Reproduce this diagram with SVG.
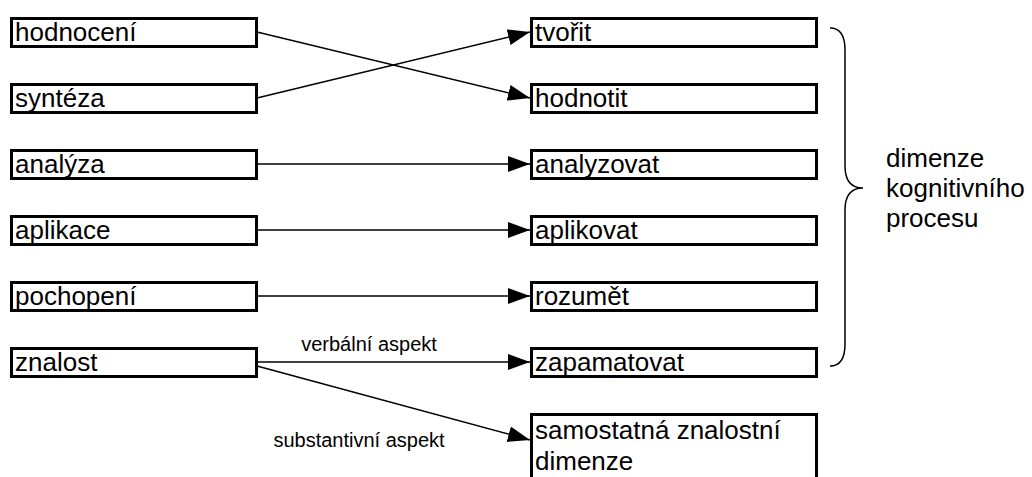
<svg xmlns="http://www.w3.org/2000/svg" width="1032" height="477" viewBox="0 0 1032 477">
<style>
.box{fill:#fff;stroke:#000;stroke-width:3}
.t{font-family:"Liberation Sans",Arial,sans-serif;font-size:26px;fill:#000}
.s{font-family:"Liberation Sans",Arial,sans-serif;font-size:20px;fill:#000}
.c{stroke:#000;stroke-width:1.5;fill:none}
</style>
<defs>
<marker id="ah" markerWidth="22" markerHeight="16" refX="22" refY="8" orient="auto" markerUnits="userSpaceOnUse">
<path d="M0,0 L22,8 L0,16 Z" fill="#000"/>
</marker>
</defs>
<rect width="1032" height="477" fill="#fff"/>
<g id="l1"><rect class="box" x="11.5" y="18.5" width="245" height="28"/><text class="t" x="15" y="40.5">hodnocení</text></g>
<g id="l2"><rect class="box" x="11.5" y="84.5" width="245" height="28"/><text class="t" x="15" y="106.5">syntéza</text></g>
<g id="l3"><rect class="box" x="11.5" y="150.5" width="245" height="28"/><text class="t" x="15" y="172.5">analýza</text></g>
<g id="l4"><rect class="box" x="11.5" y="216.5" width="245" height="28"/><text class="t" x="15" y="238.5">aplikace</text></g>
<g id="l5"><rect class="box" x="11.5" y="282.5" width="245" height="28"/><text class="t" x="15" y="304.5">pochopení</text></g>
<g id="l6"><rect class="box" x="11.5" y="348.5" width="245" height="28"/><text class="t" x="15" y="370.5">znalost</text></g>
<g id="r1"><rect class="box" x="531.5" y="18.5" width="285" height="28"/><text class="t" x="535" y="40.5">tvořit</text></g>
<g id="r2"><rect class="box" x="531.5" y="84.5" width="285" height="28"/><text class="t" x="535" y="106.5">hodnotit</text></g>
<g id="r3"><rect class="box" x="531.5" y="150.5" width="285" height="28"/><text class="t" x="535" y="172.5">analyzovat</text></g>
<g id="r4"><rect class="box" x="531.5" y="216.5" width="285" height="28"/><text class="t" x="535" y="238.5">aplikovat</text></g>
<g id="r5"><rect class="box" x="531.5" y="282.5" width="285" height="28"/><text class="t" x="535" y="304.5">rozumět</text></g>
<g id="r6"><rect class="box" x="531.5" y="348.5" width="285" height="28"/><text class="t" x="535" y="370.5">zapamatovat</text></g>
<g id="r7"><path class="box" d="M531.5,480 L531.5,414.5 L816.5,414.5 L816.5,480"/><text class="t" x="535" y="439">samostatná znalostní</text><text class="t" x="535" y="470">dimenze</text></g>
<g id="connectors">
<line class="c" x1="257" y1="32" x2="530" y2="98" marker-end="url(#ah)"/>
<line class="c" x1="257" y1="98" x2="530" y2="32" marker-end="url(#ah)"/>
<line class="c" x1="257" y1="164" x2="530" y2="164" marker-end="url(#ah)"/>
<line class="c" x1="257" y1="230" x2="530" y2="230" marker-end="url(#ah)"/>
<line class="c" x1="257" y1="296" x2="530" y2="296" marker-end="url(#ah)"/>
<line class="c" x1="257" y1="362" x2="530" y2="362" marker-end="url(#ah)"/>
<line class="c" x1="257" y1="366" x2="530" y2="440" marker-end="url(#ah)"/>
<text class="s" x="369" y="351" text-anchor="middle">verbální aspekt</text>
<text class="s" x="359" y="447" text-anchor="middle">substantivní aspekt</text>
</g>
<g id="brace">
<path class="c" d="M830,28 Q845,28 845,50 L845,166 Q845,188 863,188 Q845,188 845,210 L845,344 Q845,366 830,366"/>
<text class="t" x="886" y="167">dimenze</text>
<text class="t" x="886" y="197">kognitivního</text>
<text class="t" x="886" y="227">procesu</text>
</g>
</svg>
